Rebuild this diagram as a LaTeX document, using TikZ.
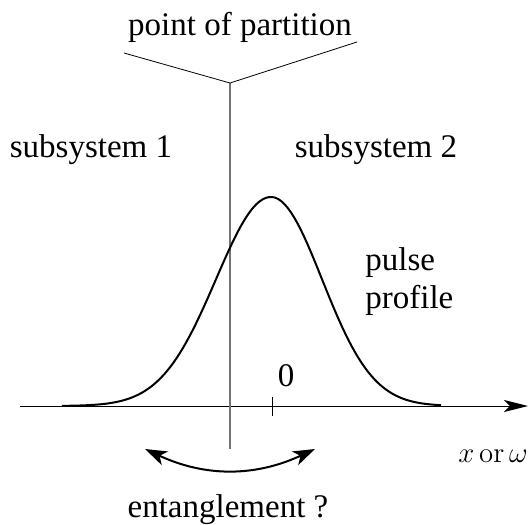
\documentclass[tikz,border=0pt]{standalone}
\usepackage[no-math]{fontspec}
\setmainfont{Liberation Serif}
\usetikzlibrary{arrows.meta}
\tikzstyle{txt} = [inner sep=0pt, anchor=base]
\tikzstyle{axisline} = [line width=0.5pt,
-{Stealth[length=12pt, width=6pt, inset=3pt]}]
\tikzstyle{divider} = [line width=0.7pt, black!55]
\tikzstyle{pulseline} = [line width=1pt]
\tikzstyle{arrow} = [line width=1pt,
{Stealth[length=11pt, width=7.5pt, inset=3pt]}-{Stealth[length=11pt, width=7.5pt, inset=3pt]}]

\begin{document}
\begin{tikzpicture}[x=0.5pt, y=-0.5pt, font=\fontsize{16.5}{19}\selectfont] % units are pixels
    \useasboundingbox (0,0) rectangle (531,525);
    % end points
    \coordinate (axis_start) at (20,406);
    \coordinate (axis_end) at (528,406);
    \coordinate (split_top) at (230,83);
    \coordinate (split_bot) at (230,449);
    \coordinate (v_left) at (124,53);
    \coordinate (v_right) at (357,42);
    \coordinate (tick_top) at (272,397);
    \coordinate (tick_bot) at (272,416);
    \coordinate (ent_left) at (145,449);
    \coordinate (ent_right) at (315,449);
    % texts
    \node[txt] (partition) at (240,35) {point of partition};
    \node[txt] (sub_one) at (91,157) {subsystem 1};
    \node[txt] (sub_two) at (376,157) {subsystem 2};
    \node[txt, anchor=base west, align=left] (profile) at (365,308) {pulse\\profile};
    \node[txt] (zero) at (286,386) {0};
    \node[txt, font=\fontsize{15}{17}\selectfont] (axis_label) at (493,462) {$x\,\mathrm{or}\,\omega$};
    \node[txt] (entangle) at (228,517) {entanglement ?};
    % lines
    \draw[axisline] (axis_start) -- (axis_end);
    \draw[divider] (split_top) -- (split_bot);
    \draw (v_left) -- (split_top) -- (v_right);
    \draw (tick_top) -- (tick_bot);
    \draw[pulseline] plot[domain=62:441, samples=120]
        (\x, {406-209*exp(-0.5*((\x-271)/(\x<271?55:51))*((\x-271)/(\x<271?55:51)))});
    \draw[arrow] (ent_left) to[bend right=25] (ent_right);
\end{tikzpicture}
\end{document}
